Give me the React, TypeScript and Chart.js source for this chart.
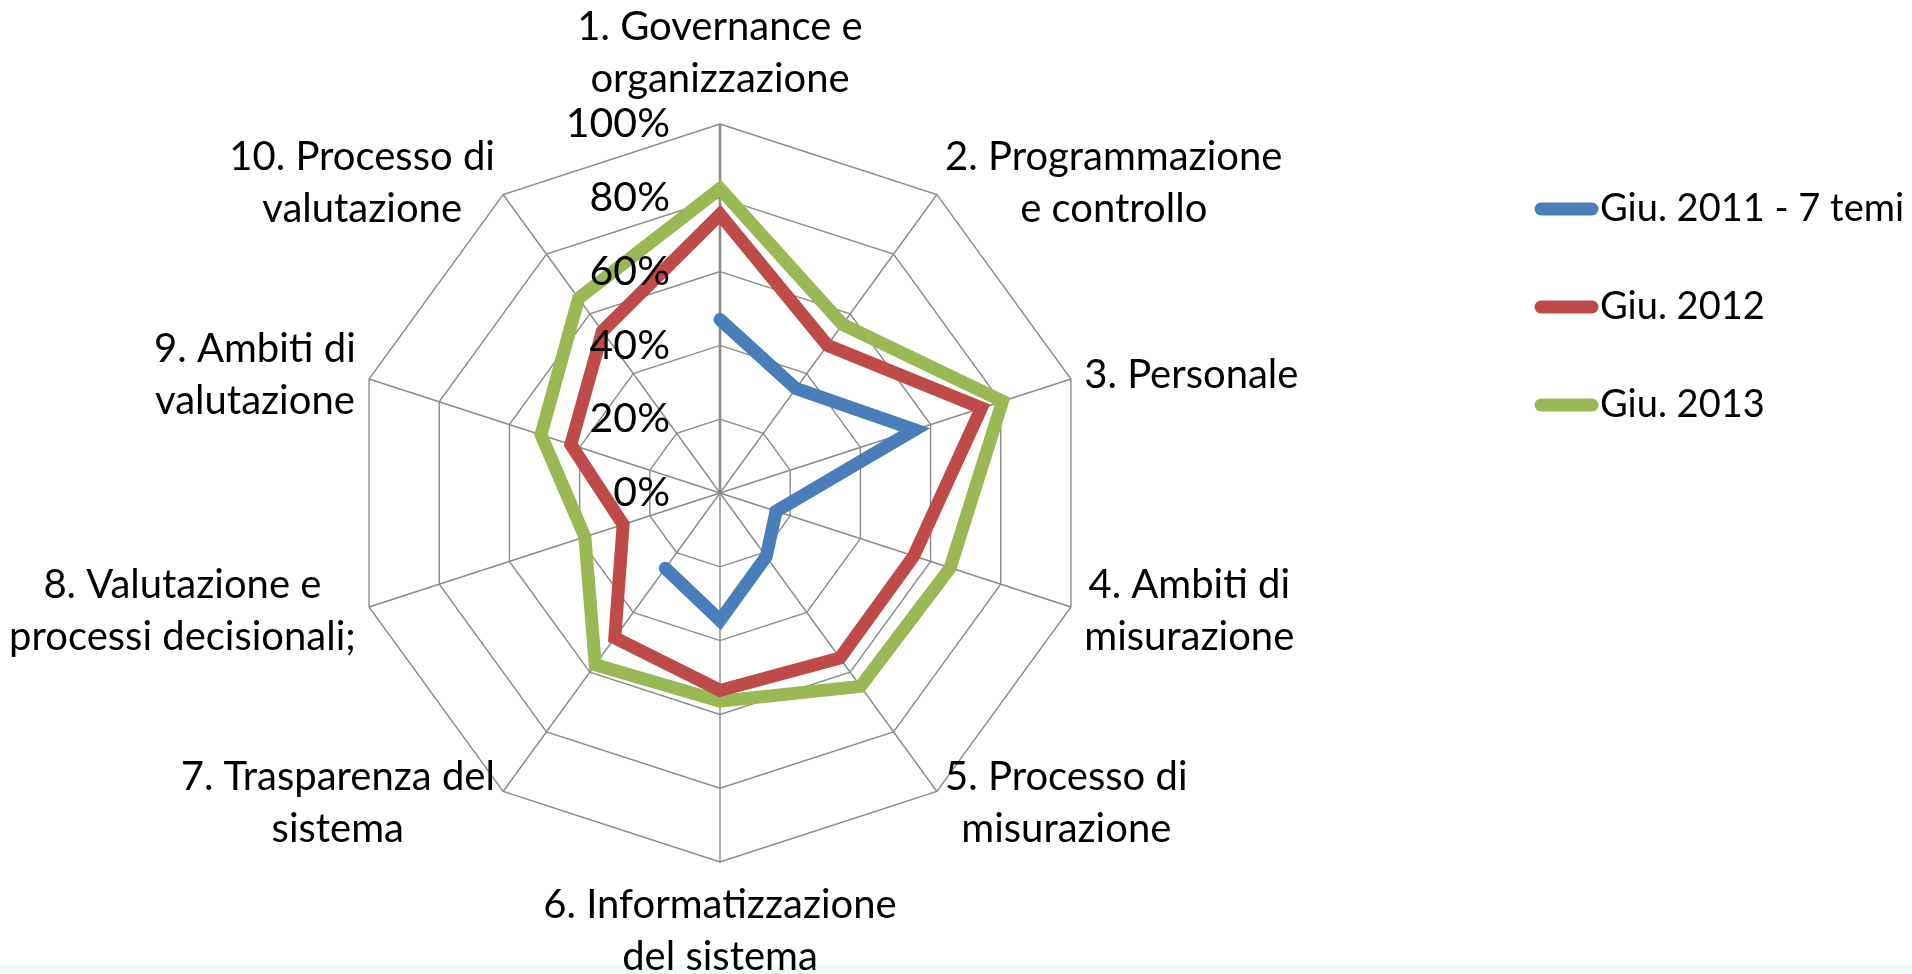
import React, { useEffect, useRef } from "react";
import { Chart, registerables } from "chart.js";

Chart.register(...registerables);

// ---- data ----
const categories: string[][] = [
  ["1. Governance e", "organizzazione"],
  ["2. Programmazione", "e controllo"],
  ["3. Personale"],
  ["4. Ambiti di", "misurazione"],
  ["5. Processo di", "misurazione"],
  ["6. Informatizzazione", "del sistema"],
  ["7. Trasparenza del", "sistema"],
  ["8. Valutazione e", "processi decisionali;"],
  ["9. Ambiti di", "valutazione"],
  ["10. Processo di", "valutazione"],
];
const seriesNames = ["Giu. 2011 - 7 temi", "Giu. 2012", "Giu. 2013"];
const giu2011: (number | null)[] = [0.47, 0.35, 0.555, 0.16, 0.213, 0.345, 0.252, null, null, null];
const giu2012: number[] = [0.755, 0.495, 0.745, 0.552, 0.553, 0.535, 0.485, 0.276, 0.425, 0.542];
const giu2013: number[] = [0.825, 0.565, 0.805, 0.656, 0.648, 0.564, 0.575, 0.385, 0.51, 0.652];
const tickValues = [0, 0.2, 0.4, 0.6, 0.8, 1.0];
const tickLabels = ["0%", "20%", "40%", "60%", "80%", "100%"];
const seriesColors = ["#4A7EBB", "#BE4B48", "#98B954"];

const FONT = "Lato";
const LABEL_SIZE = 40;
const LEGEND_SIZE = 38;
const TICK_SIZE = 41;
const LINE_H = 52;

const overlayPlugin = {
  id: "overlay",
  afterDatasetsDraw(chart: any) {
    const ctx: CanvasRenderingContext2D = chart.ctx;
    const r = chart.scales.r;
    ctx.save();
    ctx.fillStyle = "#000";

    // tick labels
    ctx.font = `${TICK_SIZE}px ${FONT}`;
    ctx.textAlign = "right";
    ctx.textBaseline = "middle";
    tickValues.forEach((v, i) => {
      const d = r.getDistanceFromCenterForValue(v);
      ctx.fillText(tickLabels[i], r.xCenter - 50, r.yCenter - d);
    });

    // point labels
    ctx.font = `${LABEL_SIZE}px ${FONT}`;
    ctx.textAlign = "center";
    categories.forEach((lines, i) => {
      const a = r.getIndexAngle(i);
      const s = Math.sin(a);
      const c = Math.cos(a);
      const p = r.getPointPosition(i, r.drawingArea + 14);
      const bw = Math.max(...lines.map((l) => ctx.measureText(l).width));
      const bh = lines.length * LINE_H;
      let cx: number;
      let top: number;
      if (Math.abs(s) < 0.01) {
        cx = p.x;
        top = c > 0 ? p.y - bh - 5 : p.y + 3;
      } else {
        cx = s > 0 ? p.x + bw / 2 : p.x - bw / 2;
        top = p.y - bh / 2;
      }
      lines.forEach((l, k) => ctx.fillText(l, cx, top + LINE_H * (k + 0.5)));
    });

    // legend
    ctx.font = `${LEGEND_SIZE}px ${FONT}`;
    const legendY = [209, 307, 405];
    seriesNames.forEach((name, i) => {
      ctx.strokeStyle = seriesColors[i];
      ctx.lineWidth = 13;
      ctx.lineCap = "round";
      ctx.beginPath();
      ctx.moveTo(1541, legendY[i]);
      ctx.lineTo(1592, legendY[i]);
      ctx.stroke();
      ctx.textAlign = "left";
      ctx.fillText(name, 1600, legendY[i]);
    });
    ctx.restore();
  },
};

export default function App() {
  const ref = useRef<HTMLCanvasElement>(null);
  useEffect(() => {
    if (!ref.current) return;
    const chart = new Chart(ref.current, {
      type: "radar",
      data: {
        labels: categories.map((c) => c.join(" ")),
        datasets: [giu2011, giu2012, giu2013].map((d, i) => ({
          label: seriesNames[i],
          data: d as any,
          borderColor: seriesColors[i],
          backgroundColor: "transparent",
          borderWidth: 13,
          borderJoinStyle: "miter" as const,
          borderCapStyle: "round" as const,
          pointRadius: 0,
          pointHoverRadius: 0,
          fill: false,
          spanGaps: false,
          tension: 0,
        })),
      },
      options: {
        animation: false,
        responsive: false,
        maintainAspectRatio: false,
        layout: { padding: { left: 351, top: 124, right: 822, bottom: 111 } },
        plugins: { legend: { display: false }, tooltip: { enabled: false } },
        scales: {
          r: {
            min: 0,
            max: 1,
            ticks: { display: false, stepSize: 0.2 },
            pointLabels: { display: false },
            grid: { color: "#8a8a8a", lineWidth: 1.4 },
            angleLines: {
              color: "#8a8a8a",
              lineWidth: (ctx: any) => (ctx.index === 0 ? 2.6 : 1.4),
            },
          },
        },
      },
      plugins: [overlayPlugin],
    });
    return () => chart.destroy();
  }, []);
  return (
    <div style={{ position: "fixed", left: 0, top: 0, width: 1912, height: 974, background: "#fff" }}>
      <div style={{ position: "absolute", left: 0, top: 965, width: 1912, height: 9, background: "#f3f9f6" }} />
      <canvas
        ref={ref}
        width={1912}
        height={974}
        style={{ display: "block", position: "absolute", left: 0, top: 0 }}
      />
    </div>
  );
}
